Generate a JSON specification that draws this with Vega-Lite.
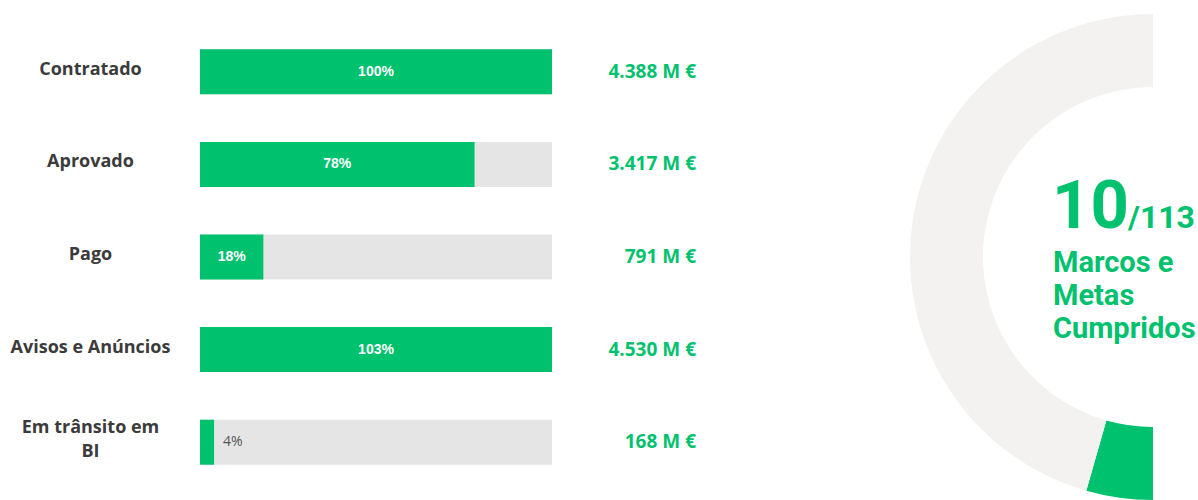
{
  "$schema": "https://vega.github.io/schema/vega-lite/v6.json",
  "background": "white",
  "padding": {"left": 10, "top": 14, "right": 0, "bottom": 0},
  "config": {
    "view": {"stroke": null},
    "locale": {"number": {"decimal": ",", "thousands": ".", "grouping": [3], "currency": ["", " M €"]}}
  },
  "spacing": 214,
  "hconcat": [
    {
      "width": 496,
      "height": 486,
      "data": {"values": [
        {"cat": "Contratado", "pct": 1.00, "valor": 4388},
        {"cat": "Aprovado", "pct": 0.78, "valor": 3417},
        {"cat": "Pago", "pct": 0.18, "valor": 791},
        {"cat": "Avisos e Anúncios", "pct": 1.03, "valor": 4530},
        {"cat": "Em trânsito em BI", "pct": 0.04, "valor": 168}
      ]},
      "transform": [
        {"calculate": "min(datum.pct, 1)", "as": "barra"},
        {"calculate": "datum.barra / 2", "as": "meio"}
      ],
      "encoding": {
        "y": {
          "field": "cat", "type": "nominal", "sort": null,
          "scale": {"paddingInner": 0.514, "paddingOuter": 0.381},
          "axis": {
            "title": null, "domain": false, "ticks": false, "grid": false,
            "labelPadding": 110, "labelAlign": "center",
            "labelFont": "Open Sans", "labelFontWeight": "bold", "labelFontSize": 18,
            "labelColor": "#3B3B3B", "labelLimit": 300, "labelLineHeight": 24,
            "labelOffset": {"condition": {"test": "datum.value == 'Em trânsito em BI'", "value": -14}, "value": -2},
            "labelExpr": "datum.value == 'Em trânsito em BI' ? ['Em trânsito em', 'BI'] : datum.value"
          }
        }
      },
      "layer": [
        {
          "mark": {"type": "bar", "color": "#E5E5E5"},
          "encoding": {
            "x": {"datum": 1, "type": "quantitative", "scale": {"domain": [0, 1.409], "nice": false}, "axis": null}
          }
        },
        {
          "mark": {"type": "bar", "color": "#00C16E"},
          "encoding": {
            "x": {"field": "barra", "type": "quantitative"}
          }
        },
        {
          "transform": [{"filter": "datum.pct >= 0.1"}],
          "mark": {"type": "text", "color": "white", "font": "Liberation Sans", "fontWeight": "bold", "fontSize": 14, "align": "center", "baseline": "middle"},
          "encoding": {
            "x": {"field": "meio", "type": "quantitative"},
            "text": {"field": "pct", "type": "quantitative", "format": ".0%"}
          }
        },
        {
          "transform": [{"filter": "datum.pct < 0.1"}],
          "mark": {"type": "text", "color": "#555555", "font": "Open Sans", "fontSize": 14, "align": "left", "baseline": "middle", "dx": 9},
          "encoding": {
            "x": {"field": "barra", "type": "quantitative"},
            "text": {"field": "pct", "type": "quantitative", "format": ".0%"}
          }
        },
        {
          "mark": {"type": "text", "color": "#00C16E", "font": "Open Sans", "fontWeight": "bold", "fontSize": 19, "align": "right", "baseline": "middle", "x": "width"},
          "encoding": {
            "text": {"field": "valor", "type": "quantitative", "format": "$,.0f"}
          }
        }
      ]
    },
    {
      "width": 243,
      "height": 486,
      "layer": [
        {
          "data": {"values": [
            {"estado": "Cumpridos", "n": 10, "ordem": 1},
            {"estado": "Por cumprir", "n": 103, "ordem": 2}
          ]},
          "mark": {"type": "arc", "radius": 243, "radius2": 170, "x": "width", "y": {"expr": "height / 2"}},
          "encoding": {
            "theta": {"field": "n", "type": "quantitative", "stack": true, "scale": {"range": [3.14159265, 6.28318531]}},
            "color": {"field": "estado", "type": "nominal", "scale": {"domain": ["Cumpridos", "Por cumprir"], "range": ["#00C16E", "#F3F2F1"]}, "legend": null},
            "order": {"field": "ordem", "type": "quantitative"}
          }
        },
        {
          "data": {"values": [{"t": "10"}]},
          "mark": {"type": "text", "x": "width", "y": {"expr": "height / 2"}, "dx": -101, "dy": -29, "align": "left", "baseline": "alphabetic", "font": "Roboto", "fontWeight": "bold", "fontSize": 67, "color": "#00C16E"},
          "encoding": {"text": {"field": "t", "type": "nominal"}}
        },
        {
          "data": {"values": [{"t": "/113"}]},
          "mark": {"type": "text", "x": "width", "y": {"expr": "height / 2"}, "dx": -25, "dy": -29, "align": "left", "baseline": "alphabetic", "font": "Roboto", "fontWeight": "bold", "fontSize": 32, "color": "#00C16E"},
          "encoding": {"text": {"field": "t", "type": "nominal"}}
        },
        {
          "data": {"values": [{"t": "Marcos e|Metas|Cumpridos"}]},
          "mark": {"type": "text", "x": "width", "y": {"expr": "height / 2"}, "dx": -100, "dy": 15, "align": "left", "baseline": "alphabetic", "lineBreak": "|", "lineHeight": 33, "font": "Roboto", "fontWeight": "bold", "fontSize": 29, "color": "#00C16E"},
          "encoding": {"text": {"field": "t", "type": "nominal"}}
        }
      ]
    }
  ]
}
